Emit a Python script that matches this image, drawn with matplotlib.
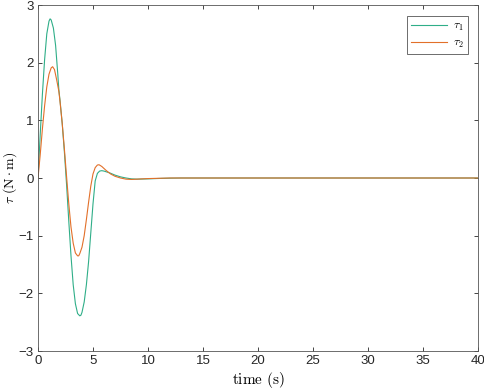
import matplotlib
matplotlib.use("Agg")
import matplotlib.pyplot as plt

# values (time in s, torque in N*m)
t1 = [0, 0.2, 0.4, 0.6, 0.8, 1.0, 1.1, 1.2, 1.4, 1.6, 1.8, 1.9, 2.0, 2.1, 2.2, 2.4,
      2.6, 2.8, 3.0, 3.2, 3.4, 3.6, 3.8, 3.9, 4.0, 4.2, 4.4, 4.6, 4.8, 5.0, 5.2, 5.4,
      5.6, 5.8, 6.0, 6.5, 7.0, 7.5, 8.0, 8.5, 9.0, 10, 11, 12, 13, 40]
tau1 = [0, 0.75, 1.45, 2.05, 2.5, 2.72, 2.76, 2.74, 2.6, 2.3, 1.8, 1.52, 1.35, 1.15, 0.95, 0.45,
        -0.12, -0.75, -1.35, -1.85, -2.18, -2.35, -2.39, -2.38, -2.33, -2.15, -1.85, -1.45, -0.95, -0.45, -0.05, 0.08,
        0.12, 0.127, 0.12, 0.09, 0.05, 0.02, 0.0, -0.015, -0.02, -0.015, -0.008, -0.003, 0, 0]

t2 = [0, 0.2, 0.4, 0.6, 0.8, 1.0, 1.2, 1.33, 1.5, 1.7, 1.9, 2.0, 2.1, 2.2, 2.4, 2.6,
      2.8, 3.0, 3.2, 3.4, 3.6, 3.7, 3.8, 4.0, 4.2, 4.4, 4.6, 4.8, 5.0, 5.2, 5.4, 5.55,
      5.8, 6.2, 6.6, 7.0, 7.5, 8.0, 8.5, 9.0, 10, 11, 12, 40]
tau2 = [0, 0.4, 0.85, 1.25, 1.58, 1.8, 1.91, 1.93, 1.88, 1.7, 1.5, 1.33, 1.14, 0.95, 0.5, 0.02,
        -0.45, -0.85, -1.13, -1.3, -1.35, -1.35, -1.31, -1.2, -1.0, -0.72, -0.42, -0.14, 0.07, 0.18, 0.225, 0.23,
        0.2, 0.13, 0.07, 0.03, 0.0, -0.02, -0.025, -0.02, -0.01, -0.005, 0, 0]

plt.rcParams['mathtext.fontset'] = 'cm'
plt.rcParams['font.family'] = ['Liberation Sans', 'DejaVu Sans']

fig = plt.figure(figsize=(4.84, 3.91), dpi=100)
ax = fig.add_axes([0.0785, 0.1023, 0.9091, 0.8849])

ax.plot(t1, tau1, color='#2fae88', lw=0.8, label=r'$\tau_1$')
ax.plot(t2, tau2, color='#e2702a', lw=0.8, label=r'$\tau_2$')

ax.set_xlim(0, 40)
ax.set_ylim(-3, 3)
ax.set_xticks(range(0, 41, 5))
ax.set_yticks(range(-3, 4))
ax.tick_params(direction='in', top=True, right=True, labelsize=9.5,
               length=3, width=0.6, colors='#262626', pad=3)
for s in ax.spines.values():
    s.set_color('#555555')
    s.set_linewidth(0.6)

ax.set_xlabel(r'$\mathrm{time\ (s)}$', fontsize=11, labelpad=2)
ax.set_ylabel(r'$\tau\ (\mathrm{N} \cdot \mathrm{m})$', fontsize=10)
ax.yaxis.set_label_coords(-0.043, 0.5)

leg = ax.legend(loc='upper right', fontsize=8.5, fancybox=False, framealpha=1,
                edgecolor='#555555', handlelength=3.0, borderpad=0.35,
                handletextpad=0.5, labelspacing=0.3,
                bbox_to_anchor=(0.99, 0.985))
leg.get_frame().set_linewidth(0.6)

fig.savefig('out.png', dpi=100)
